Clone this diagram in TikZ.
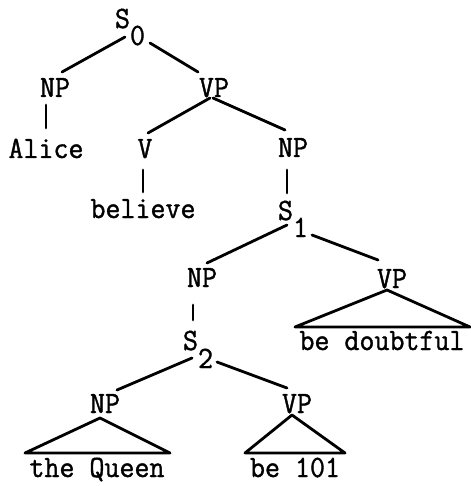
\documentclass[tikz,border=0pt]{standalone}
\usepackage{fontspec}
\newfontfamily\twfont{Latin Modern Mono}[FakeBold=1.2,FakeStretch=0.94]
\begin{document}
\begin{tikzpicture}[x=1pt,y=-1pt,
  lbl/.style={inner sep=0pt,outer sep=0pt,anchor=base,font=\fontsize{31}{32}\selectfont\twfont},
  lblw/.style={lbl,anchor=base west},
  edge/.style={line width=2.8pt,line cap=round,line join=round}]
\useasboundingbox (0,0) rectangle (470,486);
% labels
\node[lblw] (s0) at (115,28) {S\raisebox{-17pt}{0}};
\node[lbl] (np1) at (55,97) {NP};
\node[lbl] (vp1) at (214,97) {VP};
\node[lbl] (alice) at (46,158) {Alice};
\node[lbl] (v) at (145,158) {V};
\node[lbl] (believe) at (143,218) {believe};
\node[lbl] (np2) at (293,157) {NP};
\node[lblw] (s1) at (278,220) {S\raisebox{-17pt}{1}};
\node[lbl] (np3) at (202,287) {NP};
\node[lbl] (vp2) at (392,288) {VP};
\node[lbl] (doubtful) at (382,350) {be doubtful};
\node[lblw] (s2) at (183,350) {S\raisebox{-18pt}{2}};
\node[lbl] (np4) at (105,413) {NP};
\node[lbl] (vp3) at (297,413) {VP};
\node[lbl] (queen) at (97,477) {the Queen};
\node[lbl] (be101) at (295,477) {be 101};
% connectors
\draw[edge] ([shift={(10,9)}]s0.base west) -- ([shift={(7,-25)}]np1.base);
\draw[edge] ([shift={(35,15)}]s0.base west) -- ([shift={(-16,-25)}]vp1.base);
\draw[edge] ([shift={(-9,8)}]np1.base) -- ([shift={(0,-30)}]alice.base);
\draw[edge] ([shift={(-4,1)}]vp1.base) -- ([shift={(3,-25)}]v.base);
\draw[edge] ([shift={(-1,1)}]vp1.base) -- ([shift={(-8,-27)}]np2.base);
\draw[edge] ([shift={(-2,12)}]v.base) -- ([shift={(0,-26)}]believe.base);
\draw[edge] ([shift={(-6,13)}]np2.base) -- ([shift={(9,-27)}]s1.base west);
\draw[edge] ([shift={(9,5)}]s1.base west) -- ([shift={(5,-24)}]np3.base);
\draw[edge] ([shift={(34,15)}]s1.base west) -- ([shift={(-14,-28)}]vp2.base);
\draw[edge] ([shift={(-9,18)}]np3.base) -- ([shift={(10,-30)}]s2.base west);
\draw[edge] ([shift={(9,8)}]s2.base west) -- ([shift={(12,-23)}]np4.base);
\draw[edge] ([shift={(34,12)}]s2.base west) -- ([shift={(-10,-25)}]vp3.base);
% triangles
\draw[edge] ([shift={(-5,2)}]vp2.base) -- ([shift={(-87,-23)}]doubtful.base) -- ([shift={(88,-23)}]doubtful.base) -- cycle;
\draw[edge] ([shift={(-5,5)}]np4.base) -- ([shift={(-72,-24)}]queen.base) -- ([shift={(73,-24)}]queen.base) -- cycle;
\draw[edge] ([shift={(-5,2)}]vp3.base) -- ([shift={(-50,-24)}]be101.base) -- ([shift={(50,-24)}]be101.base) -- cycle;
\end{tikzpicture}
\end{document}
